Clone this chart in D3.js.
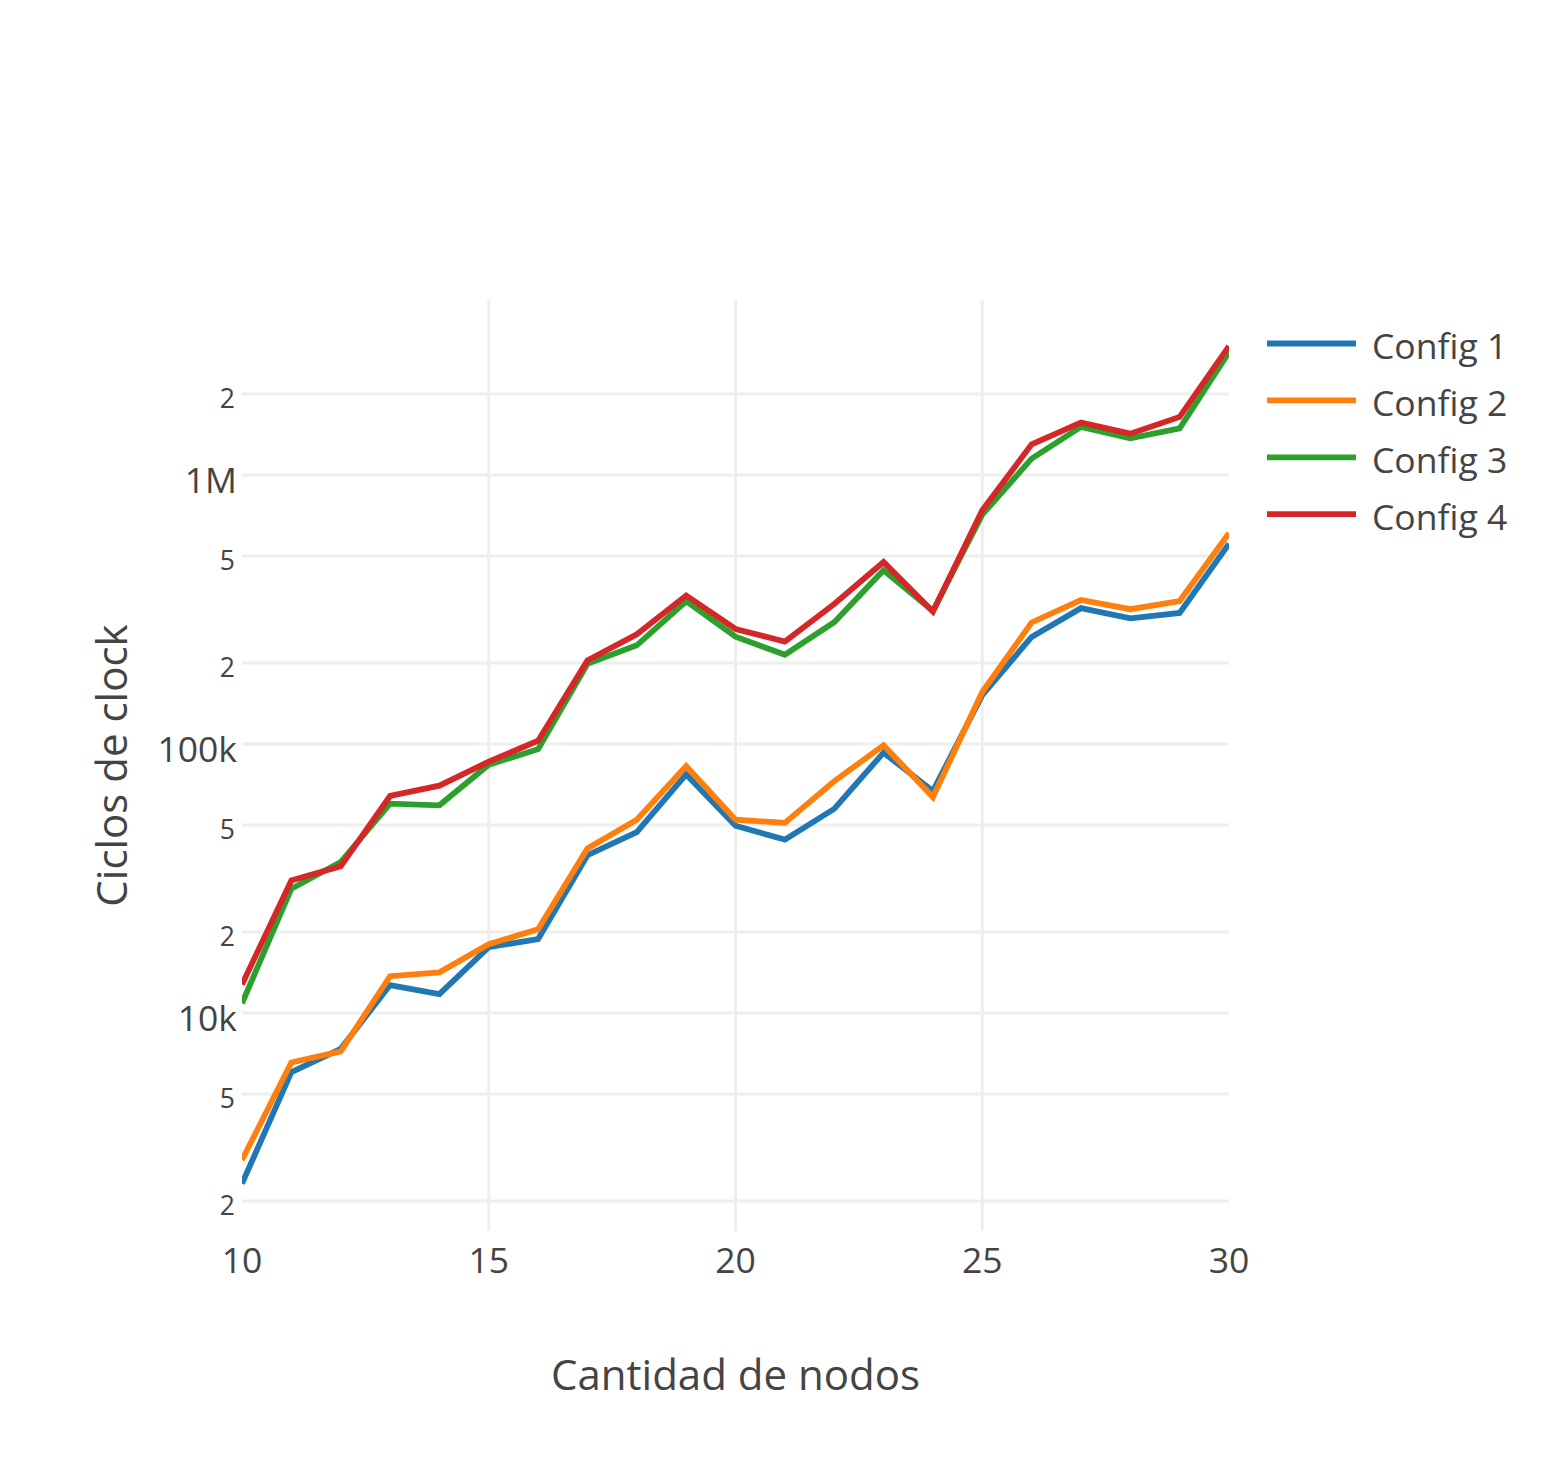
<!DOCTYPE html>
<html>
<head>
<meta charset="utf-8">
<script src="https://cdn.jsdelivr.net/npm/d3@7"></script>
<style>
  body { margin: 0; background: #fff; }
  text { font-family: "Open Sans", sans-serif; fill: #444; }
</style>
</head>
<body>
<svg id="chart" width="1560" height="1473"></svg>
<script>
// data
const nodes = [10, 11, 12, 13, 14, 15, 16, 17, 18, 19, 20, 21, 22, 23, 24, 25, 26, 27, 28, 29, 30];
const config1 = [2320, 6030, 7360, 12700, 11760, 17570, 18840, 38600, 47000, 77100, 49700, 44100, 57400, 92900, 66800, 152000, 250000, 320000, 293000, 307000, 555000];
const config2 = [2840, 6550, 7200, 13700, 14170, 18030, 20470, 40900, 52300, 82800, 52300, 50900, 72700, 98900, 63500, 156000, 283000, 343000, 317000, 340000, 608000];
const config3 = [10860, 28980, 36400, 60000, 59150, 83800, 95700, 198600, 232800, 339500, 250700, 214800, 283800, 442700, 312000, 712000, 1150000, 1510000, 1370000, 1490000, 2860000];
const config4 = [12770, 31100, 35100, 64100, 70000, 86000, 102800, 204600, 255800, 356600, 267600, 240300, 331600, 475000, 311000, 739000, 1300000, 1567000, 1425000, 1644000, 3010000];
const seriesNames = ["Config 1", "Config 2", "Config 3", "Config 4"];
const seriesColors = ["#1f77b4", "#ff7f0e", "#2ca02c", "#d62728"];

const xTicks = [10, 15, 20, 25, 30];
const yMajorTicks = [1e4, 1e5, 1e6];
const yMajorLabels = ["10k", "100k", "1M"];
const yMinorTicks = [2e3, 5e3, 2e4, 5e4, 2e5, 5e5, 2e6];
const yMinorLabels = ["2", "5", "2", "5", "2", "5", "2"];

const xTitle = "Cantidad de nodos";
const yTitle = "Ciclos de clock";

// layout
const plotL = 242, plotR = 1229, plotT = 300, plotB = 1231;
const tickSize = "35.5px";
const svg = d3.select("#chart");

const x = d3.scaleLinear().domain([10, 30]).range([plotL, plotR]);
const y = d3.scaleLog()
  .domain([Math.pow(10, 3.1896), Math.pow(10, 6.6506)])
  .range([plotB, plotT]);

// grid
const grid = svg.append("g").attr("stroke", "#eee").attr("stroke-width", 3);
grid.selectAll(".hx")
  .data(yMajorTicks.concat(yMinorTicks))
  .enter().append("line")
    .attr("x1", plotL).attr("x2", plotR)
    .attr("y1", d => y(d)).attr("y2", d => y(d));
grid.selectAll(".vx")
  .data(xTicks.filter(d => d > 10 && d < 30))
  .enter().append("line")
    .attr("x1", d => x(d)).attr("x2", d => x(d))
    .attr("y1", plotT).attr("y2", plotB);

// tick labels
svg.append("g").selectAll("text")
  .data(xTicks)
  .enter().append("text")
    .attr("x", d => x(d))
    .attr("y", 1273)
    .attr("text-anchor", "middle")
    .style("font-size", tickSize)
    .text(d => d);

svg.append("g").selectAll("text")
  .data(yMajorTicks)
  .enter().append("text")
    .attr("x", 237)
    .attr("y", d => y(d) + 18)
    .attr("text-anchor", "end")
    .style("font-size", tickSize)
    .text((d, i) => yMajorLabels[i]);

svg.append("g").selectAll("text")
  .data(yMinorTicks)
  .enter().append("text")
    .attr("x", 235)
    .attr("y", d => y(d) + 14)
    .attr("text-anchor", "end")
    .style("font-size", "26.5px")
    .text((d, i) => yMinorLabels[i]);

// axis titles
svg.append("text")
  .attr("x", (plotL + plotR) / 2)
  .attr("y", 1390)
  .attr("text-anchor", "middle")
  .style("font-size", "42px")
  .text(xTitle);

svg.append("text")
  .attr("transform", `translate(127,${(plotT + plotB) / 2}) rotate(-90)`)
  .attr("text-anchor", "middle")
  .style("font-size", "42px")
  .text(yTitle);

// lines
svg.append("clipPath").attr("id", "plotclip")
  .append("rect")
    .attr("x", plotL).attr("y", plotT)
    .attr("width", plotR - plotL).attr("height", plotB - plotT);

const series = [config1, config2, config3, config4];
const line = d3.line()
  .x((d, i) => x(nodes[i]))
  .y(d => y(d));

svg.append("g").attr("clip-path", "url(#plotclip)")
  .selectAll("path")
  .data(series)
  .enter().append("path")
    .attr("d", line)
    .attr("fill", "none")
    .attr("stroke", (d, i) => seriesColors[i])
    .attr("stroke-width", 5.8);

// legend
const legend = svg.append("g").selectAll("g")
  .data(seriesNames)
  .enter().append("g")
    .attr("transform", (d, i) => `translate(1267,${343.5 + i * 56.9})`);
legend.append("line")
  .attr("x1", 0).attr("x2", 89)
  .attr("stroke", (d, i) => seriesColors[i])
  .attr("stroke-width", 5.8);
legend.append("text")
  .attr("x", 105)
  .attr("y", 15.5)
  .style("font-size", tickSize)
  .text(d => d);
</script>
</body>
</html>
